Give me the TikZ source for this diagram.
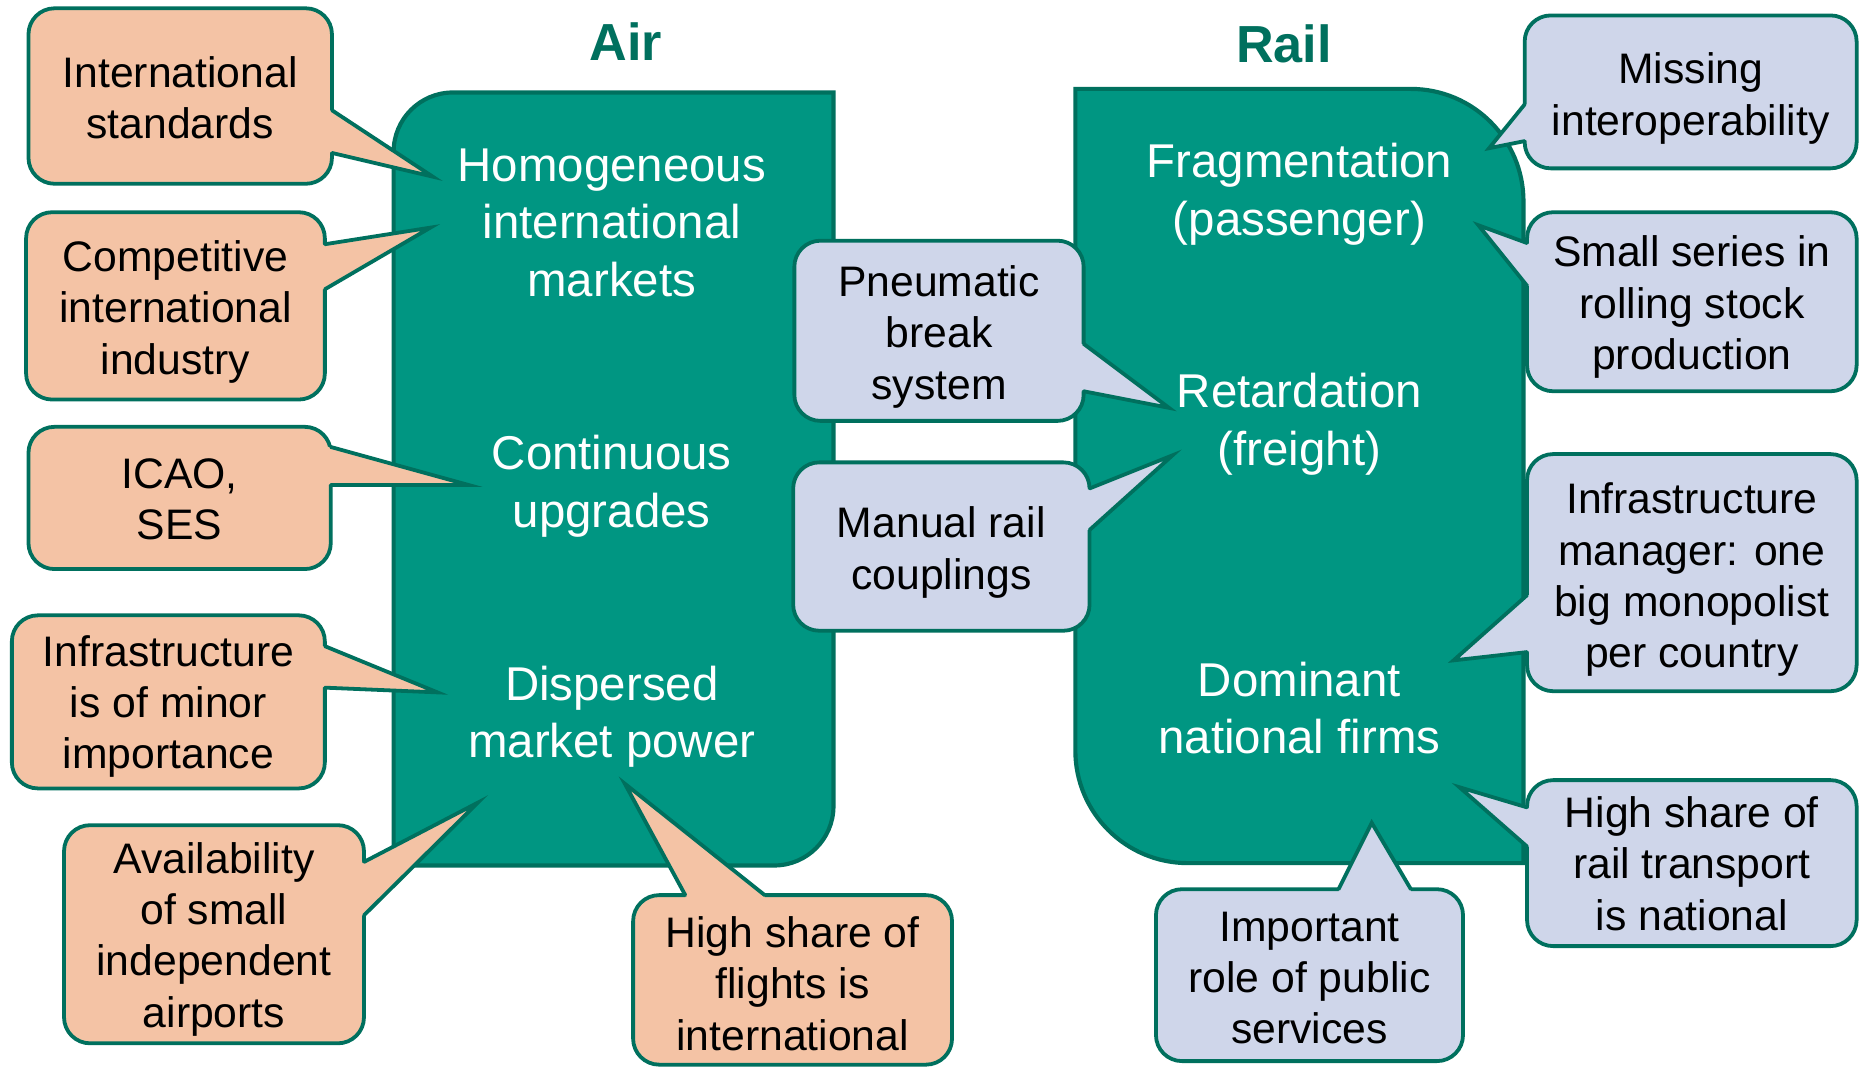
\documentclass[tikz,border=0pt]{standalone}
\usepackage{fontspec}
\setmainfont{Liberation Sans}
\usetikzlibrary{calc}
\definecolor{boxfill}{HTML}{009682}
\definecolor{bordc}{HTML}{00705E}
\definecolor{peachc}{HTML}{F4C3A5}
\definecolor{lavc}{HTML}{CFD6EA}
\tikzset{
  boxtxt/.style={text=white, align=center, inner sep=0pt, font=\fontsize{40}{48.5}\selectfont},
  cbox/.style={draw=bordc, line width=3.2pt, rounded corners=22pt, inner sep=0pt, outer sep=0pt},
  ctxt/.style={align=center, text=black, inner sep=0pt, font=\fontsize{36}{43.3}\selectfont},
  ptredge/.style={draw=bordc, line width=3.2pt, line join=miter, line cap=round},
  bigbox/.style={fill=boxfill, draw=bordc, line width=3.5pt, line join=miter},
  ttl/.style={text=bordc, inner sep=0pt, font=\bfseries\fontsize{44}{50}\selectfont}
}
% #1 name, #2 fill, #3 x1, #4 y1, #5 x2, #6 y2, #7 text, #8 text shift down
\newcommand\mycallout[8]{%
  \node[cbox, fill=#2, minimum width={(#5-#3)*1pt}, minimum height={(#6-#4)*1pt}]
    (#1) at ({(#3+#5)/2},{(#4+#6)/2}) {};
  \node[ctxt] (#1t) at ($(#1.center)+(0,#8)$) {#7};
}
% #1 fill, #2 base1, #3 base2, #4 tip, #5 inward shift, #6 tip name
\newcommand\mypointer[6]{%
  \coordinate (#6) at #4;
  \fill[#1] ($#2+#5$) -- #2 -- (#6) -- #3 -- ($#3+#5$) -- cycle;
  \draw[ptredge] #2 -- (#6) -- #3;
}
\begin{document}
\begin{tikzpicture}[x=1pt,y=-1pt]
\useasboundingbox (0,0) rectangle (1568,900);
\fill[white] (0,0) rectangle (1568,900);

% titles
\node[ttl] (tair) at (528,35) {Air};
\node[ttl] (trail) at (1083,37) {Rail};

% main boxes
\path[bigbox] (332,730) -- (332,128) .. controls (332,100.4) and (354.4,78) .. (382,78)
  -- (703,78) -- (703,680) .. controls (703,707.6) and (680.6,730) .. (653,730) -- cycle;
\path[bigbox] (907,75) -- (1190,75) .. controls (1242.5,75) and (1285,117.5) .. (1285,170)
  -- (1285,728) -- (1002,728) .. controls (949.5,728) and (907,685.5) .. (907,633) -- cycle;

% box texts
\node[boxtxt] (homo) at (516,188) {Homogeneous\\international\\markets};
\node[boxtxt] (cont) at (516,410) {Continuous\\upgrades};
\node[boxtxt] (disp) at (516,604.5) {Dispersed\\market power};
\node[boxtxt] (frag) at (1096,164) {Fragmentation\\(passenger)};
\node[boxtxt] (reta) at (1096,358) {Retardation\\(freight)};
\node[boxtxt] (domi) at (1096,597) {Dominant\\national firms};

% Air callouts
\mycallout{c1}{peachc}{24}{7}{280}{155}{International\\standards}{1.5}
\mypointer{peachc}{(280,93)}{(280,129)}{(365,149)}{(-6,0)}{t1}
\mycallout{c2}{peachc}{22}{179}{274}{337}{Competitive\\international\\industry}{5}
\mypointer{peachc}{(274,206)}{(274,244)}{(363,192)}{(-6,0)}{t2}
\mycallout{c3}{peachc}{24}{360}{279}{480}{ICAO,\\SES}{1}
\mypointer{peachc}{(279,377)}{(279,409)}{(395,409)}{(-6,0)}{t3}
\mycallout{c4}{peachc}{10}{519}{274}{665}{Infrastructure\\is of minor\\importance}{4}
\mypointer{peachc}{(274,545)}{(274,580)}{(369,584)}{(-6,0)}{t4}
\mycallout{c5}{peachc}{54}{696}{307}{880}{Availability\\of small\\independent\\airports}{4}
\mypointer{peachc}{(307,727)}{(307,772)}{(403,677)}{(-6,0)}{t5}
\mycallout{c6}{peachc}{534}{755}{803}{898}{High share of\\flights is\\international}{3}
\mypointer{peachc}{(578,755)}{(645,755)}{(527,661)}{(0,6)}{t6}

% middle callouts
\mycallout{c7}{lavc}{670}{203}{914}{355}{Pneumatic\\break\\system}{5}
\mypointer{lavc}{(914,290)}{(914,330)}{(986,344)}{(-6,0)}{t7}
\mycallout{c8}{lavc}{669}{390}{919}{532}{Manual rail\\couplings}{5}
\mypointer{lavc}{(919,412)}{(919,447)}{(989,384)}{(-6,0)}{t8}

% Rail callouts
\mycallout{c9}{lavc}{1286}{13}{1566}{142}{Missing\\interoperability}{5.5}
\mypointer{lavc}{(1286,88)}{(1286,119)}{(1256,125)}{(6,0)}{t9}
\mycallout{c10}{lavc}{1288}{179}{1566}{330}{Small series in\\rolling stock\\production}{4.5}
\mypointer{lavc}{(1288,205)}{(1288,241)}{(1247,190)}{(6,0)}{t10}
\mycallout{c11}{lavc}{1288}{383}{1566}{583}{Infrastructure\\manager: one\\big monopolist\\per country}{6}
\mypointer{lavc}{(1288,502)}{(1288,550)}{(1226,557)}{(6,0)}{t11}
\mycallout{c12}{lavc}{1288}{658}{1566}{798}{High share of\\rail transport\\is national}{0.5}
\mypointer{lavc}{(1288,681)}{(1288,714)}{(1231,664)}{(6,0)}{t12}
\mycallout{c13}{lavc}{975}{750}{1234}{895}{Important\\role of public\\services}{2.5}
\mypointer{lavc}{(1129,750)}{(1190,750)}{(1157,694)}{(0,6)}{t13}
\end{tikzpicture}
\end{document}
